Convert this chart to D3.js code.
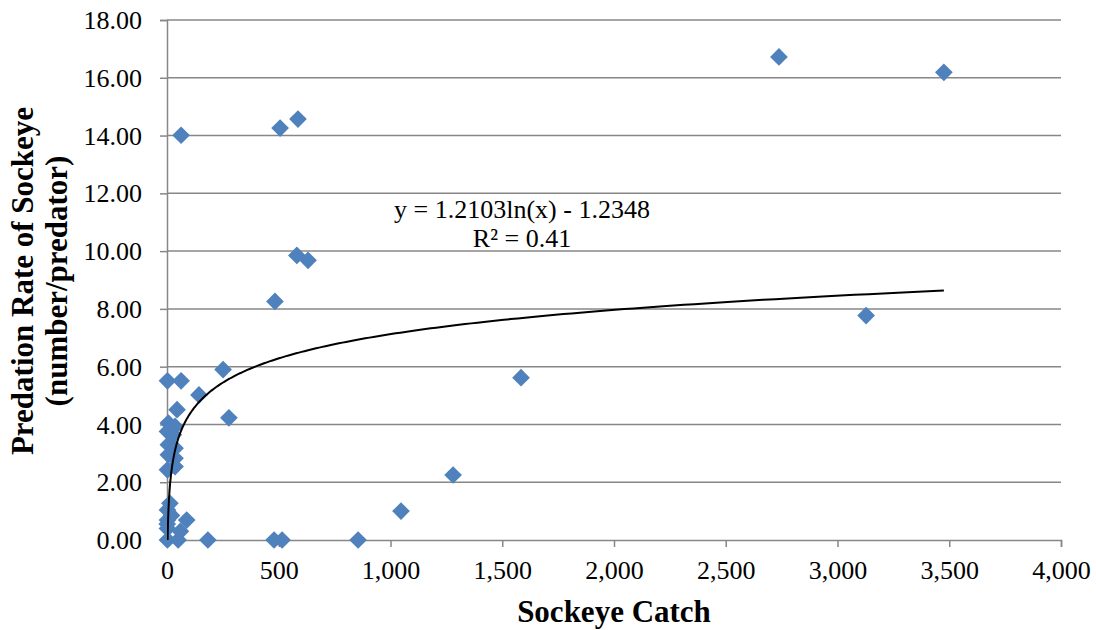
<!DOCTYPE html>
<html>
<head>
<meta charset="utf-8">
<script src="https://cdn.jsdelivr.net/npm/d3@7"></script>
<style>
    body { margin: 0; background: #fff; }
    text { font-family: "Liberation Serif", "Times New Roman", serif; }
</style>
</head>
<body>
<div id="canvas"></div>
<script>
const canvas = d3.select("#canvas");

// Sockeye catch (x) and predation rate (y)
const catchValues = [2738, 3476, 63, 506, 586, 581, 631, 483, 3128, 251,
    2, 63, 143, 45, 277, 1584, 1280, 1047, 855, 515,
    479, 183, 6, 36, 2, 28, 6, 36, 6, 36,
    2, 36, 13, 2, 88, 2, 2, 60, 2, 50,
    20, 1];
const rateValues = [16.72, 16.19, 14.01, 14.26, 14.57, 9.85, 9.68, 8.26, 7.77, 5.90,
    5.51, 5.51, 5.02, 4.51, 4.23, 5.62, 2.25, 1.00, 0, 0,
    0, 0, 4.05, 3.93, 3.76, 3.64, 3.30, 3.18, 2.95, 2.83,
    2.43, 2.54, 1.27, 1.04, 0.69, 0.69, 0.40, 0.30, 0, 0,
    0.85, 0.55];

const xTicks = [0, 500, 1000, 1500, 2000, 2500, 3000, 3500, 4000];
const yTicks = [0, 2, 4, 6, 8, 10, 12, 14, 16, 18];

// log trendline from the chart label
const trendA = 1.2103;
const trendB = -1.2348;
const trendLabel = ["y = 1.2103ln(x) - 1.2348", "R\u00b2 = 0.41"];

const width = 1096;
const height = 630;
const margin = { top: 20, left: 167, bottom: 90, right: 35 };
const iwidth = width - margin.left - margin.right;
const iheight = height - margin.top - margin.bottom;
const serif = "'Liberation Serif', 'Times New Roman', serif";

const svg = canvas.append("svg")
    .attr("width", width)
    .attr("height", height);

const g = svg.append("g").attr("transform", `translate(${margin.left},${margin.top})`);

const x = d3.scaleLinear().domain([0, 4000]).range([0, iwidth]);
const y = d3.scaleLinear().domain([0, 18]).range([iheight, 0]);

const grey = "#878787";

// gridlines
g.selectAll(".grid")
    .data(yTicks.slice(1))
    .enter().append("line")
    .attr("x1", 0).attr("x2", iwidth)
    .attr("y1", d => y(d)).attr("y2", d => y(d))
    .attr("stroke", grey).attr("stroke-width", 1.5);

const xAxis = g.append("g")
    .attr("transform", `translate(0, ${iheight})`)
    .call(d3.axisBottom(x).tickValues(xTicks).tickFormat(d3.format(",")).tickSizeOuter(0).tickSize(7).tickPadding(14));

const yAxis = g.append("g")
    .call(d3.axisLeft(y).tickValues(yTicks).tickFormat(d3.format(".2f")).tickSizeOuter(0).tickSize(7).tickPadding(18));

[xAxis, yAxis].forEach(a => {
    a.attr("font-family", serif).attr("font-size", 26);
    a.select(".domain").attr("stroke", grey).attr("stroke-width", 1.5);
    a.selectAll(".tick line").attr("stroke", grey).attr("stroke-width", 1.5);
    a.selectAll("text").attr("fill", "#000");
});
yAxis.selectAll("text").attr("dy", "0.33em");

// markers
const diamond = d3.symbol().type(d3.symbolDiamond2).size(200);
g.selectAll(".pt")
    .data(catchValues.map((c, i) => ({ c: c, r: rateValues[i] })))
    .enter().append("path")
    .attr("d", diamond)
    .attr("transform", d => `translate(${x(d.c)},${y(d.r)})`)
    .attr("fill", "#4f81bd");

// trendline
const xMax = d3.max(catchValues);
const trendPts = d3.range(0, 401).map(i => Math.exp(Math.log(xMax) * i / 400));
svg.append("clipPath").attr("id", "clip")
    .append("rect").attr("width", iwidth).attr("height", iheight);
g.append("path")
    .datum(trendPts)
    .attr("clip-path", "url(#clip)")
    .attr("fill", "none")
    .attr("stroke", "#000")
    .attr("stroke-width", 2)
    .attr("d", d3.line().x(d => x(d)).y(d => y(trendA * Math.log(d) + trendB)));

// trendline label
g.append("text")
    .attr("x", 355).attr("y", 198)
    .attr("text-anchor", "middle")
    .attr("font-size", 26)
    .selectAll("tspan").data(trendLabel).enter().append("tspan")
    .attr("x", 355).attr("dy", (d, i) => i === 0 ? 0 : 29)
    .text(d => d);

// axis titles
svg.append("text")
    .attr("x", margin.left + iwidth / 2).attr("y", 622)
    .attr("text-anchor", "middle")
    .attr("font-size", 31).attr("font-weight", "bold")
    .text("Sockeye Catch");

const yt = svg.append("text")
    .attr("transform", "translate(33, 281) rotate(-90)")
    .attr("text-anchor", "middle")
    .attr("font-size", 31).attr("font-weight", "bold");
yt.append("tspan").attr("x", 0).attr("dy", 0).text("Predation Rate of Sockeye");
yt.append("tspan").attr("x", 0).attr("dy", 34).text("(number/predator)");
</script>
</body>
</html>
